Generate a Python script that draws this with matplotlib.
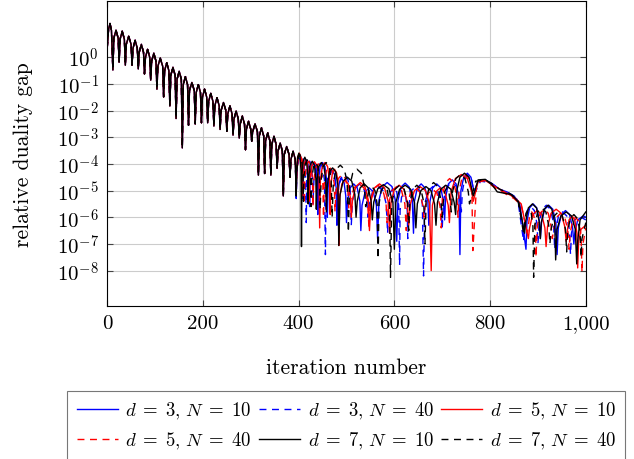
import matplotlib
matplotlib.use('Agg')
import matplotlib.pyplot as plt
import numpy as np

plt.rcParams['font.family'] = 'serif'
plt.rcParams['font.serif'] = ['cmr10', 'DejaVu Serif']
plt.rcParams['mathtext.fontset'] = 'cm'

# (iteration, log10 of relative duality gap).
# All six runs coincide up to about iteration 395.
common = [
    (0, 0.31), (3, 1.05), (6, 1.26), (9, 1.0), (12, -0.48),
    (14, 0.71), (18.5, 1.01), (23, 0.71), (25, -0.19),
    (27, 0.67), (31.5, 0.97), (36, 0.67), (38, -0.30),
    (40, 0.48), (45, 0.78), (50, 0.48), (52, -0.30),
    (54, 0.33), (58.5, 0.63), (63, 0.33), (65, -0.44),
    (67, 0.18), (71.5, 0.48), (76, 0.18), (78, -0.63),
    (80, -0.01), (84.5, 0.29), (89, -0.01), (91, -0.86),
    (93, -0.15), (97.5, 0.15), (102, -0.15), (104, -1.20),
    (106, -0.34), (111, -0.04), (116, -0.34), (118, -1.49),
    (120, -0.51), (124.5, -0.21), (129, -0.51), (131, -1.83),
    (133, -0.68), (137.5, -0.38), (142, -0.68), (144, -2.30),
    (146, -0.83), (150.5, -0.53), (155, -0.83), (157, -3.40),
    (159, -1.03), (163.5, -0.73), (168, -1.03), (170, -2.55),
    (172, -1.25), (177, -0.95), (182, -1.25), (184, -2.50),
    (186, -1.33), (190.5, -1.03), (195, -1.33), (197, -2.46),
    (199, -1.50), (203.5, -1.20), (208, -1.50), (210, -2.46),
    (212, -1.66), (216.5, -1.36), (221, -1.66), (223, -2.58),
    (225, -1.82), (229.5, -1.52), (234, -1.82), (236, -2.71),
    (238, -2.00), (243, -1.70), (248, -2.00), (250, -2.78),
    (252, -2.13), (256.5, -1.83), (261, -2.13), (263, -2.92),
    (265, -2.32), (269.5, -2.02), (274, -2.32), (276, -3.03),
    (278, -2.51), (282.5, -2.21), (287, -2.51), (289, -3.47),
    (291, -2.70), (295.5, -2.40), (300, -2.70), (302, -3.15),
    (304, -2.80), (309, -2.50), (314, -2.80), (316, -4.42),
    (318, -2.95), (322.5, -2.65), (327, -2.95), (329, -4.36),
    (331, -3.14), (335.5, -2.84), (340, -3.14), (342, -4.42),
    (344, -3.27), (348.5, -2.97), (353, -3.27), (355, -4.17),
    (357, -3.52), (361.5, -3.22), (366, -3.52), (368, -5.20),
    (370, -3.65), (375, -3.35), (380, -3.65), (382, -4.50),
    (384, -3.83), (388.5, -3.53), (393, -3.83),
]

d3_n10 = [
    (395, -5.0), (396, -4.3), (398.5, -3.8), (402, -3.65), (405.5, -3.8), (408, -4.3),
    (409, -5.3), (410, -4.5), (412.5, -4.0), (416, -3.85), (419.5, -4.0), (422, -4.5),
    (423, -5.6), (424, -4.6), (427, -4.1), (431.5, -3.95), (436, -4.1), (439, -4.6),
    (440, -5.9), (441.5, -4.6), (445, -4.1), (450, -3.95), (455, -4.1), (458.5, -4.6),
    (460, -6.0), (461.5, -4.9), (465, -4.4), (470, -4.25), (475, -4.4), (478.5, -4.9),
    (480, -6.3), (481.5, -5.2), (485, -4.7), (490, -4.55), (495, -4.7), (498.5, -5.2),
    (500, -6.2), (502, -5.4), (507.5, -4.9), (515, -4.75), (522.5, -4.9), (528, -5.4),
    (530, -6.5), (532.5, -5.55), (539, -5.05), (547.5, -4.9), (556, -5.05), (562.5, -5.55),
    (565, -6.8), (568, -5.35), (575, -4.85), (585, -4.7), (595, -4.85), (602, -5.35),
    (605, -6.9), (607.5, -5.37), (614, -4.87), (622.5, -4.72), (631, -4.87), (637.5, -5.37),
    (640, -6.6), (642, -5.4), (648, -4.9), (656, -4.75), (664, -4.9), (670, -5.4),
    (672, -6.3), (674.5, -5.4), (680, -4.9), (688.5, -4.75), (697, -4.9), (702.5, -5.4),
    (705, -6.1), (707, -5.25), (713, -4.75), (721, -4.6), (729, -4.75), (735, -5.25),
    (737, -7.4), (739, -5.0), (745, -4.5), (752.5, -4.35), (760, -4.5), (766, -5.0),
    (768, -5.0), (775, -4.65), (790, -4.6), (805, -4.75), (820, -4.95),
    (835, -5.05), (850, -5.2), (862, -5.5),
    (875, -7.2), (877, -6.15), (882.5, -5.65), (890, -5.5), (897.5, -5.65), (903, -6.15),
    (905, -6.8), (907.5, -6.2), (914, -5.7), (922.5, -5.55), (931, -5.7), (937.5, -6.2),
    (940, -7.4), (942.5, -6.4), (949, -5.9), (957.5, -5.75), (966, -5.9), (972.5, -6.4),
    (975, -7.0), (977, -6.6), (983, -6.1), (995, -5.95), (1000, -6.0),
]

d3_n40 = [
    (395, -5.3), (396.5, -4.35), (400, -3.85), (405.5, -3.7), (411, -3.85), (414.5, -4.35),
    (416, -6.2), (417, -4.55), (419.5, -4.05), (423, -3.9), (426.5, -4.05), (429, -4.55),
    (430, -5.5), (432, -4.6), (436.5, -4.1), (443, -3.95), (449.5, -4.1), (454, -4.6),
    (456, -7.4), (457.5, -4.85), (462, -4.35), (468, -4.2), (474, -4.35), (478.5, -4.85),
    (480, -6.0), (482, -5.05), (487.5, -4.55), (495, -4.4), (502.5, -4.55), (508, -5.05),
    (510, -6.3), (512.5, -5.4), (519, -4.9), (527.5, -4.75), (536, -4.9), (542.5, -5.4),
    (545, -6.0), (548, -5.5), (555, -5.0), (565.5, -4.85), (576, -5.0), (583, -5.5),
    (586, -6.6), (588, -5.55), (592, -5.05), (598.5, -4.9), (605, -5.05), (609, -5.55),
    (611, -7.8), (612, -5.75), (615, -5.25), (619.5, -5.1), (624, -5.25), (627, -5.75),
    (628, -6.8), (630.5, -5.5), (636, -5.0), (644.5, -4.85), (653, -5.0), (658.5, -5.5),
    (661, -8.2), (663.5, -5.5), (671, -5.0), (680.5, -4.85), (690, -5.0), (697.5, -5.5),
    (700, -6.4), (703, -5.35), (710, -4.85), (720, -4.7), (730, -4.85), (737, -5.35),
    (740, -5.8), (742, -5.05), (747, -4.55), (754, -4.4), (761, -4.55), (766, -5.05),
    (768, -5.1), (780, -4.65), (800, -4.7), (820, -4.95), (840, -5.15),
    (858, -5.35),
    (870, -6.9), (872, -6.25), (877.5, -5.75), (885, -5.6), (892.5, -5.75), (898, -6.25),
    (900, -7.0), (902.5, -6.2), (909, -5.7), (917.5, -5.55), (926, -5.7), (932.5, -6.2),
    (935, -7.2), (937.5, -6.45), (943, -5.95), (951.5, -5.8), (960, -5.95), (965.5, -6.45),
    (968, -7.4), (970, -6.6), (976, -6.1), (990, -6.0), (1000, -6.1),
]

d5_n10 = [
    (395, -5.0), (396, -4.25), (398, -3.75), (401.5, -3.6), (405, -3.75), (407, -4.25),
    (408, -5.2), (409, -4.5), (411.5, -4.0), (415, -3.85), (418.5, -4.0), (421, -4.5),
    (422, -5.4), (423.5, -4.57), (427.5, -4.07), (433, -3.92), (438.5, -4.07), (442.5, -4.57),
    (444, -6.4), (445.5, -4.6), (449.5, -4.1), (455, -3.95), (460.5, -4.1), (464.5, -4.6),
    (466, -5.9), (467, -4.85), (470.5, -4.35), (475, -4.2), (479.5, -4.35), (483, -4.85),
    (484, -7.06), (486, -5.25), (490.5, -4.75), (497, -4.6), (503.5, -4.75), (508, -5.25),
    (510, -6.0), (512.5, -5.35), (519.5, -4.85), (529, -4.7), (538.5, -4.85), (545.5, -5.35),
    (548, -6.5), (551, -5.4), (558.5, -4.9), (569, -4.75), (579.5, -4.9), (587, -5.4),
    (590, -6.6), (593, -5.45), (600, -4.95), (610, -4.8), (620, -4.95), (627, -5.45),
    (630, -6.3), (633.5, -5.5), (642, -5.0), (653.5, -4.85), (665, -5.0), (673.5, -5.5),
    (677, -8.0), (679.5, -5.55), (686.5, -5.05), (696, -4.9), (705.5, -5.05), (712.5, -5.55),
    (715, -6.2), (718.5, -5.05), (727.5, -4.55), (740, -4.4), (752.5, -4.55), (761.5, -5.05),
    (765, -5.4), (775, -4.65), (790, -4.62), (810, -4.85), (830, -5.05),
    (850, -5.25), (865, -5.5),
    (880, -6.8), (882.5, -6.4), (889, -5.9), (898.5, -5.75), (908, -5.9), (914.5, -6.4),
    (917, -7.1), (920, -6.35), (927.5, -5.85), (938, -5.7), (948.5, -5.85), (956, -6.35),
    (959, -6.9), (960.5, -6.6), (965, -6.1), (971, -5.95), (977, -6.1), (981.5, -6.6),
    (983, -7.9), (985, -6.9), (990, -6.45), (1000, -6.3),
]

d5_n40 = [
    (395, -5.1), (396, -4.35), (399, -3.85), (403.5, -3.7), (408, -3.85), (411, -4.35),
    (412, -5.5), (413, -4.55), (416.5, -4.05), (421, -3.9), (425.5, -4.05), (429, -4.55),
    (430, -5.6), (431.5, -4.65), (435.5, -4.15), (441, -4.0), (446.5, -4.15), (450.5, -4.65),
    (452, -6.0), (453.5, -4.75), (458, -4.25), (464, -4.1), (470, -4.25), (474.5, -4.75),
    (476, -5.8), (478, -5.05), (483, -4.55), (490.5, -4.4), (498, -4.55), (503, -5.05),
    (505, -5.7), (508, -5.4), (515.5, -4.9), (526, -4.75), (536.5, -4.9), (544, -5.4),
    (547, -6.4), (549.5, -5.45), (556.5, -4.95), (566, -4.8), (575.5, -4.95), (582.5, -5.45),
    (585, -6.2), (588, -5.5), (595, -5.0), (605, -4.85), (615, -5.0), (622, -5.5),
    (625, -6.5), (627.5, -5.55), (634, -5.05), (643.5, -4.9), (653, -5.05), (659.5, -5.55),
    (662, -6.0), (664.5, -5.6), (671, -5.1), (680, -4.95), (689, -5.1), (695.5, -5.6),
    (698, -6.4), (700.5, -5.2), (707, -4.7), (715.5, -4.55), (724, -4.7), (730.5, -5.2),
    (733, -6.0), (735, -5.05), (741, -4.55), (748.5, -4.4), (756, -4.55), (762, -5.05),
    (764, -7.25), (772, -4.7), (790, -4.62), (810, -4.9), (830, -5.1),
    (850, -5.3), (865, -5.55),
    (878, -6.6), (879, -6.45), (882.5, -5.95), (887, -5.8), (891.5, -5.95), (895, -6.45),
    (896, -7.5), (898.5, -6.35), (904.5, -5.85), (913, -5.7), (921.5, -5.85), (927.5, -6.35),
    (930, -6.8), (932.5, -6.5), (939, -6.0), (947.5, -5.85), (956, -6.0), (962.5, -6.5),
    (965, -7.2), (967, -6.65), (972, -6.15), (978.5, -6.0), (985, -6.15), (990, -6.65),
    (992, -8.06), (994, -7.0), (1000, -6.4),
]

d7_n10 = [
    (395, -5.2), (396, -4.25), (398, -3.75), (400.5, -3.6), (403, -3.75), (405, -4.25),
    (406, -7.1), (407, -4.4), (409.5, -3.9), (413, -3.75), (416.5, -3.9), (419, -4.4),
    (420, -5.5), (421, -4.55), (424, -4.05), (428.5, -3.9), (433, -4.05), (436, -4.55),
    (437, -5.7), (438.5, -4.6), (442, -4.1), (447.5, -3.95), (453, -4.1), (456.5, -4.6),
    (458, -5.8), (460, -4.8), (464.5, -4.3), (471, -4.15), (477.5, -4.3), (482, -4.8),
    (484, -7.06), (486.5, -5.15), (493, -4.65), (502, -4.5), (511, -4.65), (517.5, -5.15),
    (520, -6.0), (522.5, -5.4), (528.5, -4.9), (537, -4.75), (545.5, -4.9), (551.5, -5.4),
    (554, -6.1), (557, -5.43), (565.5, -4.93), (577, -4.78), (588.5, -4.93), (597, -5.43),
    (600, -7.2), (603, -5.45), (611, -4.95), (622.5, -4.8), (634, -4.95), (642, -5.45),
    (645, -6.4), (648, -5.5), (655.5, -5.0), (666, -4.85), (676.5, -5.0), (684, -5.5),
    (687, -6.3), (690, -5.45), (697, -4.95), (707.5, -4.8), (718, -4.95), (725, -5.45),
    (728, -5.9), (730.5, -5.0), (737, -4.5), (746.5, -4.35), (756, -4.5), (762.5, -5.0),
    (765, -5.2), (775, -4.6), (790, -4.58), (805, -4.8), (815, -5.05),
    (830, -5.1), (845, -5.15), (860, -5.45),
    (872, -6.6), (874.5, -6.15), (880, -5.65), (888.5, -5.5), (897, -5.65), (902.5, -6.15),
    (905, -6.8), (907, -6.2), (913, -5.7), (921, -5.55), (929, -5.7), (935, -6.2),
    (937, -7.6), (940, -6.45), (948, -5.95), (959, -5.8), (970, -5.95), (978, -6.45),
    (981, -7.75), (983, -6.9), (988, -6.1), (1000, -5.8),
]

d7_n40 = [
    (395, -5.2), (396, -4.3), (399, -3.8), (402.5, -3.65), (406, -3.8), (409, -4.3),
    (410, -5.4), (411, -4.5), (414, -4.0), (418, -3.85), (422, -4.0), (425, -4.5),
    (426, -5.6), (427.5, -4.6), (431, -4.1), (435.5, -3.95), (440, -4.1), (443.5, -4.6),
    (445, -5.7), (447, -4.6), (451, -4.1), (457.5, -3.95), (464, -4.1), (468, -4.6),
    (470, -6.0), (472.5, -4.7), (478.5, -4.2), (487, -4.05), (495.5, -4.2), (501.5, -4.7),
    (504, -6.56), (506.5, -4.85), (513, -4.35), (522, -4.2), (531, -4.35), (537.5, -4.85),
    (540, -5.6), (542, -5.5), (546.5, -5.0), (553, -4.85), (559.5, -5.0), (564, -5.5),
    (566, -7.56), (568, -5.5), (572.5, -5.0), (579, -4.85), (585.5, -5.0), (590, -5.5),
    (592, -8.25), (594.5, -5.45), (601.5, -4.95), (611, -4.8), (620.5, -4.95), (627.5, -5.45),
    (630, -6.5), (632.5, -5.45), (638.5, -4.95), (647, -4.8), (655.5, -4.95), (661.5, -5.45),
    (664, -7.0), (666.5, -5.35), (673, -4.85), (682, -4.7), (691, -4.85), (697.5, -5.35),
    (700, -6.0), (701.5, -5.55), (705, -5.05), (709.5, -4.9), (714, -5.05), (717.5, -5.55),
    (719, -5.8), (721.5, -5.05), (728.5, -4.55), (738, -4.4), (747.5, -4.55), (754.5, -5.05),
    (757, -5.5), (770, -4.65), (790, -4.6), (805, -4.75), (820, -4.95),
    (840, -5.1), (858, -5.35),
    (870, -6.6), (871.5, -6.35), (875, -5.85), (880.5, -5.7), (886, -5.85), (889.5, -6.35),
    (891, -8.25), (893.5, -6.3), (899.5, -5.8), (908, -5.65), (916.5, -5.8), (922.5, -6.3),
    (925, -7.0), (927.5, -6.45), (934, -5.95), (942.5, -5.8), (951, -5.95), (957.5, -6.45),
    (960, -7.3), (962, -6.55), (967.5, -6.05), (975, -5.9), (982.5, -6.05), (988, -6.55),
    (990, -7.5), (992, -6.8), (1000, -6.2),
]

dashed = (0, (5, 4))
series = [
    (d3_n10, 'blue', '-', r'$d\;=\;3,\,N\;=\;10$'),
    (d3_n40, 'blue', dashed, r'$d\;=\;3,\,N\;=\;40$'),
    (d5_n10, 'red', '-', r'$d\;=\;5,\,N\;=\;10$'),
    (d5_n40, 'red', dashed, r'$d\;=\;5,\,N\;=\;40$'),
    (d7_n10, 'black', '-', r'$d\;=\;7,\,N\;=\;10$'),
    (d7_n40, 'black', dashed, r'$d\;=\;7,\,N\;=\;40$'),
]

yticks = [1e0, 1e-1, 1e-2, 1e-3, 1e-4, 1e-5, 1e-6, 1e-7, 1e-8]
ytick_labels = [r'$10^{0}$'] + [r'$10^{-%d}$' % k for k in range(1, 9)]
xticks = [0, 200, 400, 600, 800, 1000]
xtick_labels = ['0', '200', '400', '600', '800', '1,000']

fig = plt.figure(figsize=(6.34, 4.6), dpi=100)
ax = fig.add_axes([0.169, 0.333, 0.755, 0.663])

for pts, col, ls, lab in series:
    it, lg = zip(*(common + pts))
    ax.plot(it, 10.0 ** np.array(lg), color=col, ls=ls, lw=1.0, label=lab)

ax.set_yscale('log')
ax.set_xlim(0, 1000)
ax.set_ylim(10 ** -9.32, 10 ** 2.11)
ax.set_yticks(yticks)
ax.set_yticklabels(ytick_labels)
ax.set_xticks(xticks)
ax.set_xticklabels(xtick_labels)
ax.minorticks_off()
ax.grid(True, color='#cccccc', lw=0.8)
ax.set_axisbelow(True)
ax.tick_params(direction='in', top=True, right=True, length=4,
               color='#444444', labelsize=15)
ax.tick_params(axis='y', pad=6)
ax.tick_params(axis='x', pad=6)
for sp in ax.spines.values():
    sp.set_linewidth(0.8)
ax.set_xlabel('iteration number', fontsize=15.5, labelpad=18)
ax.set_ylabel('relative duality gap', fontsize=15.5, labelpad=17)

handles, labels = ax.get_legend_handles_labels()
order = [0, 3, 1, 4, 2, 5]
leg = fig.legend([handles[i] for i in order], [labels[i] for i in order],
                 ncol=3, loc='upper center', bbox_to_anchor=(0.546, 0.148),
                 borderaxespad=0, fontsize=13.5, frameon=True, fancybox=False,
                 edgecolor='#555555', handlelength=2.2, handletextpad=0.4,
                 columnspacing=0.4, borderpad=0.5, labelspacing=0.45)
leg.get_frame().set_linewidth(0.8)

fig.savefig('out.png', dpi=100)
